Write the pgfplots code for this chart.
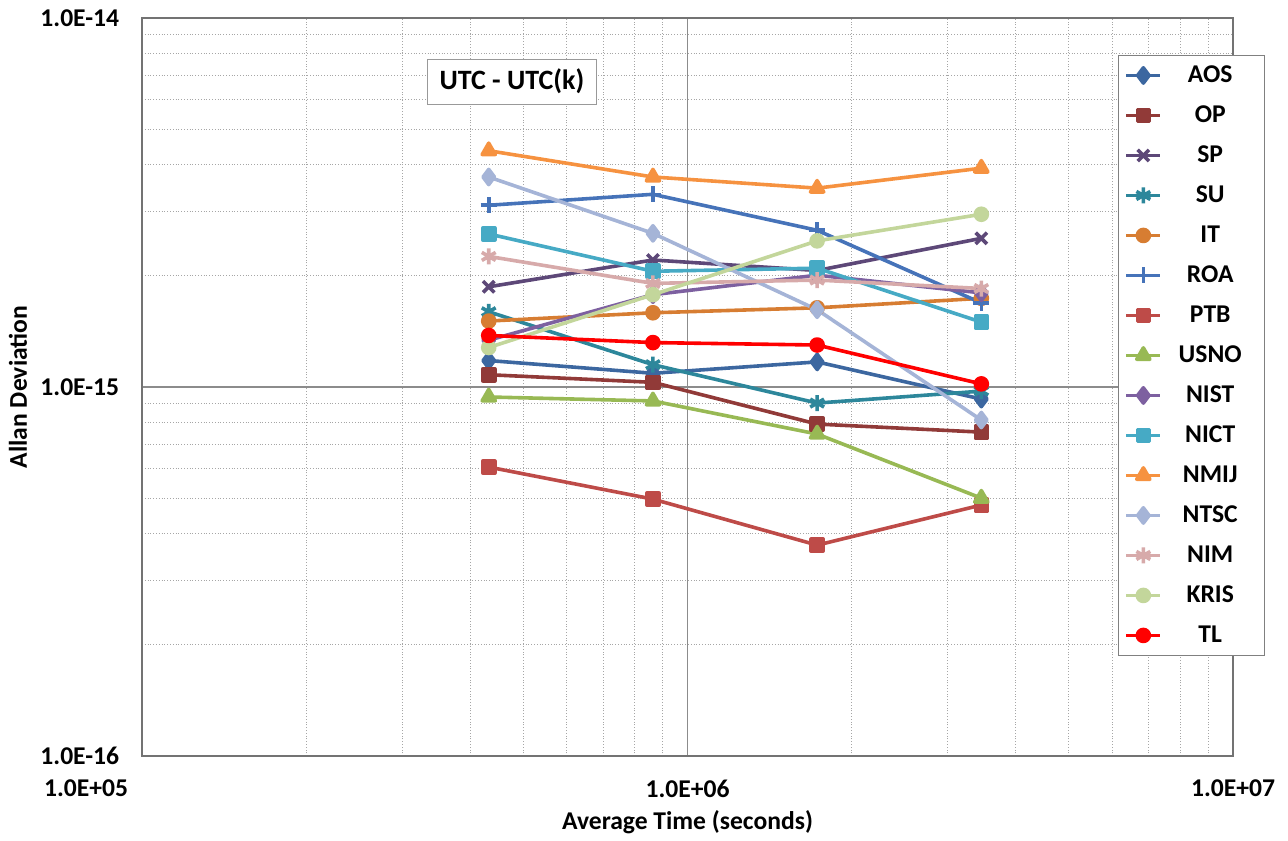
\documentclass[border=0pt]{standalone}
\usepackage{fontspec}
\setmainfont{Carlito}
\usepackage{pgfplots}
\pgfplotsset{compat=1.18}
\definecolor{cAOS}{RGB}{60,103,160}
\definecolor{cOP}{RGB}{145,58,56}
\definecolor{cSP}{RGB}{93,72,120}
\definecolor{cSU}{RGB}{45,135,155}
\definecolor{cIT}{RGB}{215,125,50}
\definecolor{cROA}{RGB}{70,115,185}
\definecolor{cPTB}{RGB}{190,75,72}
\definecolor{cUSNO}{RGB}{152,185,84}
\definecolor{cNIST}{RGB}{125,96,160}
\definecolor{cNICT}{RGB}{70,170,197}
\definecolor{cNMIJ}{RGB}{246,146,64}
\definecolor{cNTSC}{RGB}{165,180,215}
\definecolor{cNIM}{RGB}{215,170,170}
\definecolor{cKRIS}{RGB}{195,214,155}
\definecolor{cTL}{RGB}{255,0,0}
\newcommand{\lblfont}{\fontsize{12.8}{15}\selectfont\bfseries}
\begin{document}
\begin{tikzpicture}
\begin{loglogaxis}[
  scale only axis, width=545.5pt, height=369pt,
  xmin=1e5, xmax=1e7, ymin=1e-16, ymax=1e-14,
  xtick={1e5,1e6,1e7}, xticklabels={\makebox[0pt]{\hspace{-56pt}1.0E+05},1.0E+06,1.0E+07},
  ytick={1e-16,1e-15,1e-14}, yticklabels={1.0E-16,1.0E-15,1.0E-14},
  grid=both,
  major grid style={black!45, line width=0.6pt},
  minor grid style={black!35, densely dotted, line width=0.5pt},
  axis line style={black!55, line width=0.7pt},
  tick style={draw=none},
  ticklabel style={font=\lblfont},
  xticklabel style={yshift=-8.5pt},
  yticklabel style={xshift=-8pt},
  label style={font=\lblfont},
  xlabel={Average Time (seconds)}, ylabel={Allan Deviation},
  xlabel style={at={(axis description cs:0.5,-0.0894)}, anchor=center},
  ylabel style={at={(axis description cs:-0.1137,0.5)}, anchor=center},
  clip=false,
  legend style={at={(rel axis cs:0.8946,0.9499)}, anchor=north west,
    draw=black!50, fill=white, font=\lblfont, inner xsep=3pt, inner ysep=0pt,
    nodes={minimum height=20pt, inner ysep=0pt, text width=44pt, align=center}},
  every axis plot/.append style={line width=1.8pt, line join=round, mark options={solid}},
]
\addplot[color=cAOS, mark=diamond*, mark size=3.8pt] coordinates {(432000,1.18e-15) (864000,1.09e-15) (1728000,1.17e-15) (3456000,9.28e-16)};
\addplot[color=cOP, mark=square*, mark size=3pt] coordinates {(432000,1.08e-15) (864000,1.03e-15) (1728000,7.94e-16) (3456000,7.55e-16)};
\addplot[color=cSP, mark=x, mark size=4pt] coordinates {(432000,1.87e-15) (864000,2.21e-15) (1728000,2.07e-15) (3456000,2.53e-15)};
\addplot[color=cSU, mark=asterisk, mark size=4pt] coordinates {(432000,1.60e-15) (864000,1.15e-15) (1728000,9.05e-16) (3456000,9.75e-16)};
\addplot[color=cIT, mark=*, mark size=3pt] coordinates {(432000,1.51e-15) (864000,1.59e-15) (1728000,1.64e-15) (3456000,1.74e-15)};
\addplot[color=cROA, mark=+, mark size=4pt] coordinates {(432000,3.11e-15) (864000,3.33e-15) (1728000,2.66e-15) (3456000,1.69e-15)};
\addplot[color=cPTB, mark=square*, mark size=3pt] coordinates {(432000,6.07e-16) (864000,4.97e-16) (1728000,3.73e-16) (3456000,4.79e-16)};
\addplot[color=cUSNO, mark=triangle*, mark size=3.8pt] coordinates {(432000,9.40e-16) (864000,9.17e-16) (1728000,7.46e-16) (3456000,5.00e-16)};
\addplot[color=cNIST, mark=diamond*, mark size=3.8pt] coordinates {(432000,1.34e-15) (864000,1.78e-15) (1728000,2.01e-15) (3456000,1.80e-15)};
\addplot[color=cNICT, mark=square*, mark size=3pt] coordinates {(432000,2.60e-15) (864000,2.06e-15) (1728000,2.10e-15) (3456000,1.50e-15)};
\addplot[color=cNMIJ, mark=triangle*, mark size=3.8pt] coordinates {(432000,4.37e-15) (864000,3.71e-15) (1728000,3.46e-15) (3456000,3.92e-15)};
\addplot[color=cNTSC, mark=diamond*, mark size=3.8pt] coordinates {(432000,3.71e-15) (864000,2.61e-15) (1728000,1.62e-15) (3456000,8.14e-16)};
\addplot[color=cNIM, mark=asterisk, mark size=4pt] coordinates {(432000,2.26e-15) (864000,1.91e-15) (1728000,1.95e-15) (3456000,1.85e-15)};
\addplot[color=cKRIS, mark=*, mark size=3pt] coordinates {(432000,1.28e-15) (864000,1.78e-15) (1728000,2.49e-15) (3456000,2.94e-15)};
\addplot[color=cTL, mark=*, mark size=3pt] coordinates {(432000,1.38e-15) (864000,1.32e-15) (1728000,1.30e-15) (3456000,1.02e-15)};
\legend{AOS,OP,SP,SU,IT,ROA,PTB,USNO,NIST,NICT,NMIJ,NTSC,NIM,KRIS,TL}
\node[draw=black!40, fill=white, font=\fontsize{14}{16}\selectfont\bfseries, inner xsep=6pt, inner ysep=5pt] at (rel axis cs:0.339,0.914) {UTC - UTC(k)};
\path (rel axis cs:-0.1302,-0.1111) rectangle (rel axis cs:1.0504,1.0244);
\end{loglogaxis}
\end{tikzpicture}
\end{document}
